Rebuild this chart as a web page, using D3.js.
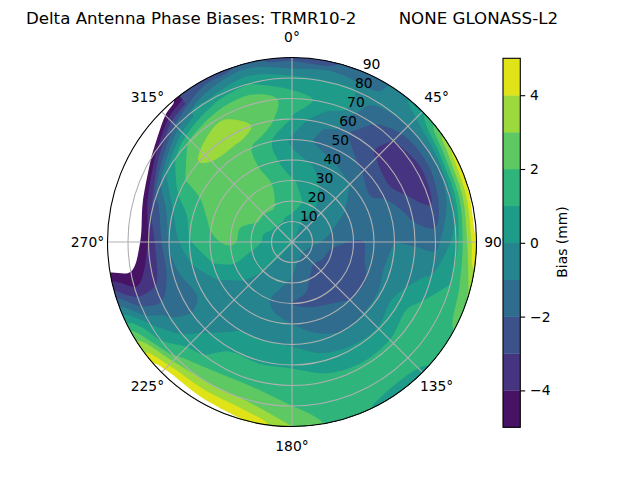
<!DOCTYPE html>
<html>
<head>
<meta charset="utf-8">
<script src="https://cdnjs.cloudflare.com/ajax/libs/d3/7.8.5/d3.min.js"></script>
<style>
  html, body { margin: 0; padding: 0; background: #fff; }
  text { font-family: "DejaVu Sans", sans-serif; fill: #000; }
</style>
</head>
<body>
<svg id="chart" width="640" height="480"></svg>
<script>
// Values
const titleText = "Delta Antenna Phase Biases: TRMR10-2\u00a0\u00a0\u00a0\u00a0\u00a0\u00a0\u00a0\u00a0NONE GLONASS-L2";
const azimuths = d3.range(0, 360, 15);
const zeniths = [0, 10, 20, 30, 40, 50, 60, 70, 80, 90];
const levels = [-5, -4, -3, -2, -1, 0, 1, 2, 3, 4, 5];
const angleTicks = [0, 45, 90, 135, 180, 225, 270, 315];
const ringTicks = [10, 20, 30, 40, 50, 60, 70, 80, 90];
const barTicks = [-4, -2, 0, 2, 4];

// one row per azimuth, one value per zenith (mm)
const biasByAz = [
    [0.1,  0.8,  1.3,  1.1,  0.3, -0.2,  0.9,  1.5,  0.3, -2.5],  // 0
    [0.1,  0.4,  1.0,  0.6, -0.1, -1.2, -0.9,  0.6,  0.1, -2.0],  // 15
    [0.1, -0.1,  0.2, -0.2, -0.7, -1.6, -2.2, -1.5, -0.8, -1.2],  // 30
    [0.1, -0.4, -0.5, -0.7, -1.0, -2.2, -3.2, -3.0, -1.0,  0.8],  // 45
    [0.1, -0.4, -0.8, -1.0, -1.6, -2.5, -3.5, -3.7, -1.0,  4.3],  // 60
    [0.1, -0.4, -1.0, -1.2, -1.0, -1.1, -2.5, -3.0, -0.5,  5.2],  // 75
    [0.1, -0.5, -1.7, -2.1, -1.9, -1.0, -1.1, -1.4,  0.5,  5.1],  // 90
    [0.1, -1.1, -2.2, -2.4, -1.8, -0.6, -0.4,  0.2,  1.0,  3.2],  // 105
    [0.1, -1.3, -2.3, -2.5, -2.1, -0.8,  0.5,  1.5,  1.8,  1.9],  // 120
    [0.1, -1.5, -2.5, -2.4, -2.0, -0.9,  0.1,  1.3,  1.5,  0.8],  // 135
    [0.1, -1.2, -2.2, -2.5, -1.5, -1.0,  0.2,  1.2,  1.5,  0.8],  // 150
    [0.1, -1.0, -1.6, -2.3, -1.3, -0.8,  0.5,  1.3,  1.6,  1.5],  // 165
    [0.1, -0.5, -1.2, -2.0, -1.0, -0.1,  0.9,  1.5,  2.0,  3.0],  // 180
    [0.1, -0.4, -0.8, -1.3, -0.7,  0.0,  0.9,  1.6,  2.8,  5.0],  // 195
    [0.1, -0.2, -0.4, -0.5, -0.4,  0.0,  0.9,  1.5,  3.0,  5.6],  // 210
    [0.1,  0.1,  0.0, -0.4, -0.5, -0.5, -0.2,  0.6,  2.2,  5.8],  // 225
    [0.1,  0.2,  0.5,  0.5, -0.2, -0.8, -1.4, -1.2,  0.0,  2.5],  // 240
    [0.1,  0.3,  0.9,  1.3,  1.0, -0.2, -1.3, -3.4, -4.3, -3.0],  // 255
    [0.1,  0.5,  1.5,  2.2,  1.8,  0.9, -0.9, -3.9, -6.6, -8.5],  // 270
    [0.1,  0.6,  1.5,  2.3,  2.2,  1.5,  0.0, -2.7, -7.0, -10.0], // 285
    [0.1,  0.8,  2.1,  2.4,  2.3,  2.2,  2.0,  0.2, -5.2, -9.0],  // 300
    [0.1,  0.9,  2.1,  2.3,  2.6,  2.5,  3.4,  2.2, -1.6, -6.2],  // 315
    [0.1,  0.9,  2.2,  2.5,  2.4,  2.5,  3.5,  2.9,  0.2, -2.8],  // 330
    [0.1,  0.8,  1.6,  1.8,  1.4,  1.4,  2.8,  2.8,  1.0, -1.7]   // 345
];

const svg = d3.select("#chart");
const cx = 292, cy = 242, R = 184.5, labelR = 204.5;
const gridColor = "#b0b0b0";
const fontSize = 13.89;

const rScale = d3.scaleLinear().domain([0, 90]).range([0, R]);
const thetaScale = d3.scaleLinear().domain([0, 360]).range([0, 2 * Math.PI]);
const bandColor = t => d3.interpolateViridis((t + 5.5) / 10);

function polar(az, zen) {
    const r = rScale(Math.max(zen, 0)), a = thetaScale(az);
    return [cx + r * Math.sin(a), cy - r * Math.cos(a)];
}

// wrap azimuth by two columns on each side, repeat the last ring outside the circle
const pad = 2;
const nCols = azimuths.length + 2 * pad;
const nRows = zeniths.length + 1;
const gridValues = [];
for (let j = 0; j < nRows; j++) {
    const zi = Math.min(j, zeniths.length - 1);
    for (let i = 0; i < nCols; i++) {
        const ai = (i - pad + azimuths.length) % azimuths.length;
        gridValues.push(biasByAz[ai][zi]);
    }
}

const contours = d3.contours().size([nCols, nRows]).thresholds(levels)(gridValues);

// contour coords -> az/zen -> pixels, rounded off so the 15 degree grid doesn't show
const ringLine = d3.line().curve(d3.curveCatmullRomClosed.alpha(0.5));
function contourPath(geom) {
    const toPolar = ([x, y]) => polar((x - 0.5 - pad) * 15, (y - 0.5) * 10);
    let d = "";
    geom.coordinates.forEach(poly => poly.forEach(ring => {
        d += ringLine(ring.slice(0, -1).map(toPolar));
    }));
    return d;
}

svg.append("clipPath").attr("id", "disc")
    .append("circle").attr("cx", cx).attr("cy", cy).attr("r", R);

const plot = svg.append("g").attr("clip-path", "url(#disc)");
plot.selectAll("path")
    .data(contours)
    .enter()
    .append("path")
    .attr("fill", d => d.value >= 5 ? "#fff" : bandColor(d.value))  // above 5 is not drawn
    .attr("d", contourPath);

// Grid
const grid = svg.append("g").attr("fill", "none").attr("stroke", gridColor).attr("stroke-width", 1.1);
grid.selectAll("circle")
    .data(ringTicks.slice(0, -1))
    .enter()
    .append("circle")
    .attr("cx", cx)
    .attr("cy", cy)
    .attr("r", d => rScale(d));
grid.selectAll("line")
    .data(angleTicks)
    .enter()
    .append("line")
    .attr("x1", cx)
    .attr("y1", cy)
    .attr("x2", d => polar(d, 90)[0])
    .attr("y2", d => polar(d, 90)[1]);

svg.append("circle")
    .attr("cx", cx).attr("cy", cy).attr("r", R)
    .attr("fill", "none").attr("stroke", "#000").attr("stroke-width", 1.1);

// Angle labels
svg.selectAll("text.angle")
    .data(angleTicks)
    .enter()
    .append("text")
    .attr("class", "angle")
    .attr("font-size", fontSize)
    .attr("text-anchor", "middle")
    .attr("dy", "0.33em")
    .attr("x", d => cx + labelR * Math.sin(thetaScale(d)))
    .attr("y", d => cy - labelR * Math.cos(thetaScale(d)))
    .text(d => d + "\u00b0");

// Ring labels sit along 22.5 degrees
svg.selectAll("text.ring")
    .data(ringTicks)
    .enter()
    .append("text")
    .attr("class", "ring")
    .attr("font-size", fontSize)
    .attr("text-anchor", "middle")
    .attr("dy", "0.36em")
    .attr("x", d => polar(22.5, d)[0] + 9)
    .attr("y", d => polar(22.5, d)[1] - 7.5)
    .text(d => d);

// Colour bar, drawn over the 90 degree label
const barX = 503, barW = 17.3;
const barY = d3.scaleLinear().domain([-5, 5]).range([427.3, 58.3]);
const bar = svg.append("g");
bar.selectAll("rect")
    .data(levels.slice(0, -1))
    .enter()
    .append("rect")
    .attr("x", barX)
    .attr("width", barW)
    .attr("y", d => barY(d + 1))
    .attr("height", d => barY(d) - barY(d + 1) + 0.3)
    .attr("fill", d => bandColor(d));
bar.append("rect")
    .attr("x", barX).attr("y", barY(5)).attr("width", barW).attr("height", barY(-5) - barY(5))
    .attr("fill", "none").attr("stroke", "#000").attr("stroke-width", 1.1);

const barAxis = svg.append("g")
    .attr("transform", `translate(${barX + barW},0)`)
    .call(d3.axisRight(barY).tickValues(barTicks).tickSize(4.9).tickPadding(4.9)
        .tickFormat(d => String(d).replace("-", "\u2212")));
barAxis.select(".domain").remove();
barAxis.selectAll("line").attr("stroke", "#000").attr("stroke-width", 1.1);
barAxis.selectAll("text").attr("font-size", fontSize).attr("font-family", '"DejaVu Sans", sans-serif').attr("fill", "#000");

svg.append("text")
    .attr("transform", "translate(562,242) rotate(-90)")
    .attr("text-anchor", "middle")
    .attr("dy", "0.36em")
    .attr("font-size", fontSize)
    .text("Bias (mm)");

svg.append("text")
    .attr("x", 292)
    .attr("y", 23.5)
    .attr("text-anchor", "middle")
    .attr("font-size", 16.67)
    .text(titleText);
</script>
</body>
</html>
